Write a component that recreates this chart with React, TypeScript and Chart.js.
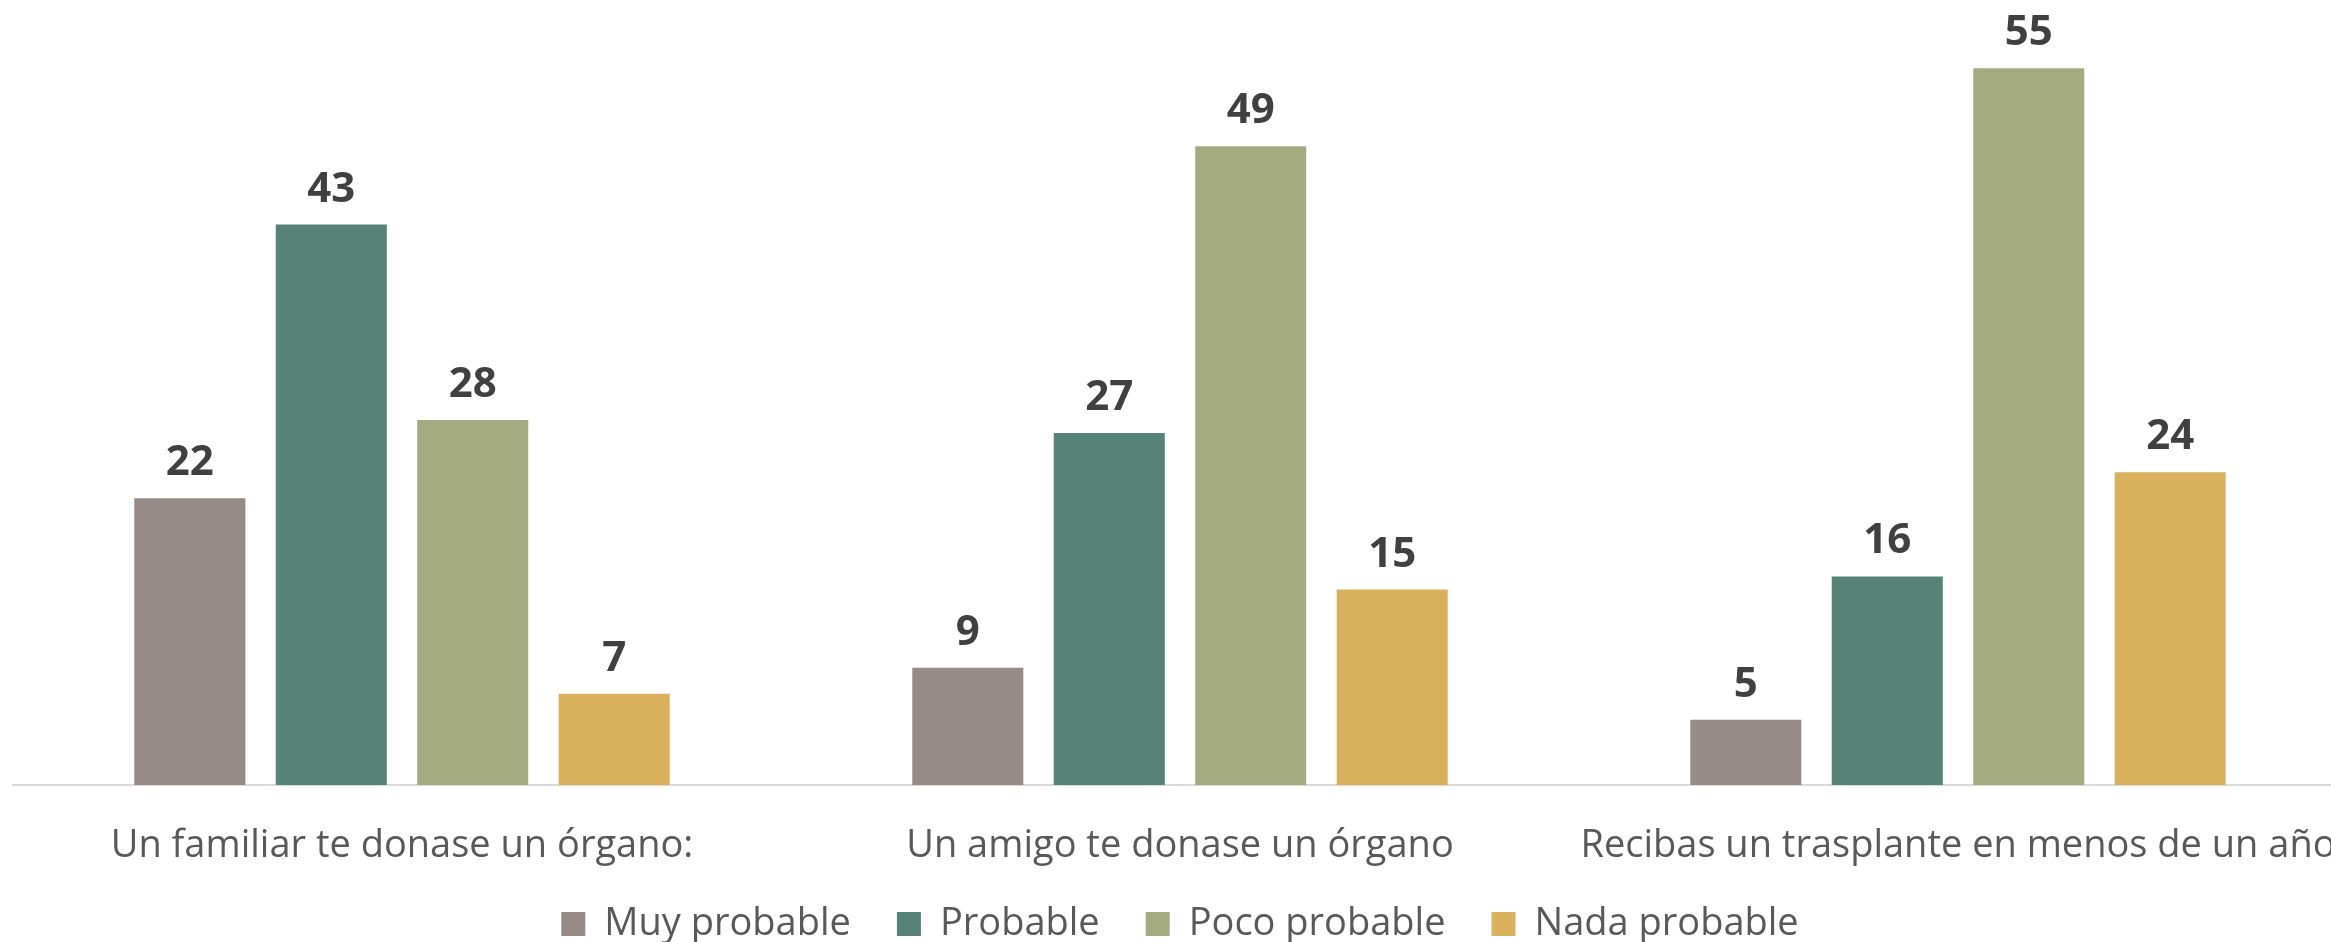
import React, { useEffect, useRef } from "react";
import { Chart, registerables } from "chart.js";

Chart.register(...registerables);

const categories = [
  "Un familiar te donase un órgano:",
  "Un amigo te donase un órgano",
  "Recibas un trasplante en menos de un año",
];
const seriesNames = ["Muy probable", "Probable", "Poco probable", "Nada probable"];
const muyProbable = [22, 9, 5];
const probable = [43, 27, 16];
const pocoProbable = [28, 49, 55];
const nadaProbable = [7, 15, 24];
const seriesColors = ["#978B88", "#578277", "#A5AB80", "#D9B15C"];
const yMax = 60;

const FONT = "'Open Sans', 'Noto Sans', sans-serif";

const valueLabels = {
  id: "valueLabels",
  afterDatasetsDraw(chart: any) {
    const ctx = chart.ctx;
    ctx.save();
    ctx.font = `bold 42px ${FONT}`;
    ctx.fillStyle = "#404040";
    ctx.textAlign = "center";
    ctx.textBaseline = "alphabetic";
    chart.data.datasets.forEach((ds: any, i: number) => {
      const meta = chart.getDatasetMeta(i);
      meta.data.forEach((el: any, j: number) => {
        ctx.fillText(String(ds.data[j]), el.x, el.y - 23);
      });
    });
    ctx.restore();
  },
};

export default function App() {
  const ref = useRef<HTMLCanvasElement | null>(null);
  useEffect(() => {
    if (!ref.current) return;
    const values = [muyProbable, probable, pocoProbable, nadaProbable];
    const chart = new Chart(ref.current, {
      type: "bar",
      data: {
        labels: categories,
        datasets: seriesNames.map((name, i) => ({
          label: name,
          data: values[i],
          backgroundColor: seriesColors[i],
          borderWidth: 0,
          categoryPercentage: 0.7273,
          barPercentage: 0.785,
        })),
      },
      options: {
        animation: false,
        responsive: false,
        maintainAspectRatio: false,
        layout: { padding: { left: 13, right: 0, top: 3, bottom: -11 } },
        scales: {
          x: {
            grid: { display: false, drawTicks: false },
            border: { display: true, color: "#D9D9D9", width: 2 },
            ticks: {
              color: "#595959",
              font: { family: FONT, size: 38 },
              padding: 38,
              maxRotation: 0,
              autoSkip: false,
            },
            afterFit: (scale: any) => {
              scale.height = 74;
              scale.paddingLeft = 0;
              scale.paddingRight = 0;
              scale._computeLabelArea = () => undefined;
            },
          },
          y: {
            display: false,
            min: 0,
            max: yMax,
          },
        },
        plugins: {
          legend: {
            position: "bottom",
            labels: {
              color: "#595959",
              font: { family: FONT, size: 38 },
              boxWidth: 24,
              boxHeight: 24,
              padding: 46,
            },
          },
          tooltip: { enabled: false },
        },
      },
      plugins: [valueLabels],
    });
    return () => chart.destroy();
  }, []);
  return (
    <div
      style={{
        position: "fixed",
        left: 0,
        top: 0,
        width: 2331,
        height: 942,
        overflow: "hidden",
        background: "#fff",
      }}
    >
      <canvas ref={ref} width={2347} height={942} style={{ width: 2347, height: 942, display: "block" }} />
    </div>
  );
}
